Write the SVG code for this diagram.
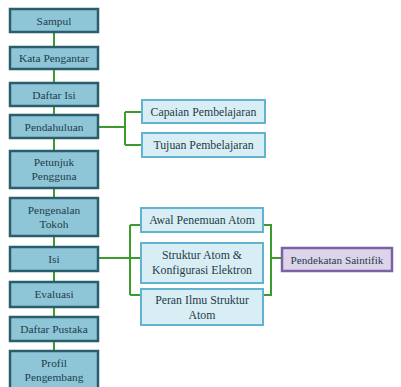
<svg xmlns="http://www.w3.org/2000/svg" width="401" height="387" viewBox="0 0 401 387" font-family="Liberation Serif, Times New Roman, Times, serif">
<style>
.m{fill:#8ec6d8;stroke:#2b5e6c;stroke-width:2.5}
.s{fill:#d9edf5;stroke:#62b3cf;stroke-width:2}
.p{fill:#ddd4ec;stroke:#7b62a3;stroke-width:2.5}
.c{fill:none;stroke:#3d9a2c;stroke-width:2}
.t{font-size:11.4px;fill:#223c48;text-anchor:middle}
.r{font-size:11.8px}
.q{font-size:11.2px}
</style>
<rect width="401" height="387" fill="#ffffff"/>
<g id="connectors">
<path class="c" d="M54 32V47M54 69V83M54 106V115M54 138V151M54 188V198M54 236V247M54 271V282M54 307V317M54 341V351"/>
<path class="c" d="M98 127H125M125 112V145M125 112H142M125 145H142"/>
<path class="c" d="M98 258H130M130 225V295M130 225H141M130 258H141M130 295H141"/>
<path class="c" d="M263 225H271V295H263M271 258H282"/>
</g>
<g id="sampul"><rect class="m" x="10" y="9" width="88" height="23"/><text class="t" x="54" y="24.5">Sampul</text></g>
<g id="kata-pengantar"><rect class="m" x="10" y="47" width="88" height="22"/><text class="t" x="54" y="62">Kata Pengantar</text></g>
<g id="daftar-isi"><rect class="m" x="10" y="83" width="88" height="23"/><text class="t" x="54" y="98.5">Daftar Isi</text></g>
<g id="pendahuluan"><rect class="m" x="10" y="115" width="88" height="23"/><text class="t" x="54" y="130.5">Pendahuluan</text></g>
<g id="petunjuk-pengguna"><rect class="m" x="10" y="151" width="88" height="37"/><text class="t" x="54" y="166">Petunjuk</text><text class="t" x="54" y="180">Pengguna</text></g>
<g id="pengenalan-tokoh"><rect class="m" x="10" y="198" width="88" height="38"/><text class="t" x="54" y="214">Pengenalan</text><text class="t" x="54" y="228">Tokoh</text></g>
<g id="isi"><rect class="m" x="10" y="247" width="88" height="24"/><text class="t" x="54" y="262.5">Isi</text></g>
<g id="evaluasi"><rect class="m" x="10" y="282" width="88" height="25"/><text class="t" x="54" y="298">Evaluasi</text></g>
<g id="daftar-pustaka"><rect class="m" x="10" y="317" width="88" height="24"/><text class="t" x="54" y="333">Daftar Pustaka</text></g>
<g id="profil-pengembang"><rect class="m" x="10" y="351" width="88" height="38"/><text class="t" x="54" y="367">Profil</text><text class="t" x="54" y="381">Pengembang</text></g>
<g id="capaian"><rect class="s" x="142" y="100" width="123" height="23"/><text class="t r" x="203.5" y="115.5">Capaian Pembelajaran</text></g>
<g id="tujuan"><rect class="s" x="142" y="133" width="123" height="24"/><text class="t r" x="203.5" y="149">Tujuan Pembelajaran</text></g>
<g id="awal"><rect class="s" x="141" y="208" width="122" height="24"/><text class="t r" x="202" y="224">Awal Penemuan Atom</text></g>
<g id="struktur"><rect class="s" x="141" y="243" width="122" height="40"/><text class="t r" x="202" y="259">Struktur Atom &amp;</text><text class="t r" x="202" y="273.5">Konfigurasi Elektron</text></g>
<g id="peran"><rect class="s" x="141" y="289" width="122" height="36"/><text class="t r" x="202" y="304">Peran Ilmu Struktur</text><text class="t r" x="202" y="318.5">Atom</text></g>
<g id="pendekatan"><rect class="p" x="282" y="248" width="110" height="23"/><text class="t q" x="337" y="263.5">Pendekatan Saintifik</text></g>
</svg>
